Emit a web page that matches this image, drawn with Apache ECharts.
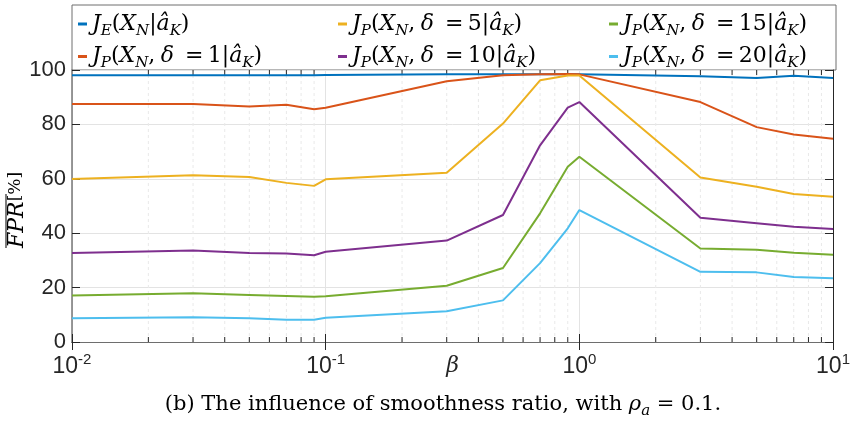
<!DOCTYPE html>
<html>
<head>
<meta charset="utf-8">
<script src="https://cdn.jsdelivr.net/npm/echarts@6/dist/echarts.min.js"></script>
<style>
  html, body { margin: 0; padding: 0; background: #fff; }
  #chart { width: 853px; height: 426px; }
</style>
</head>
<body>
<div id="chart"></div>
<script>
// smoothness ratio beta (x) and mean FPR in % for each detector
const betas = [0.01, 0.03, 0.05, 0.07, 0.09, 0.1, 0.3, 0.5, 0.7, 0.9, 1, 3, 5, 7, 10];
const fprE   = [98.1, 98.1, 98.1, 98.1, 98.1, 98.2, 98.4, 98.4, 98.4, 98.4, 98.4, 97.7, 97.1, 97.9, 97.1];
const fprP1  = [87.5, 87.5, 86.6, 87.2, 85.6, 86.1, 95.9, 98.1, 98.4, 98.5, 98.4, 88.2, 79.0, 76.3, 74.7];
const fprP5  = [59.9, 61.3, 60.7, 58.5, 57.4, 59.8, 62.2, 80.3, 96.2, 98.0, 98.0, 60.5, 57.1, 54.4, 53.4];
const fprP10 = [32.7, 33.6, 32.7, 32.5, 31.9, 33.2, 37.3, 46.7, 72.3, 86.2, 88.2, 45.7, 43.7, 42.4, 41.5];
const fprP15 = [17.1, 17.9, 17.3, 16.9, 16.6, 16.8, 20.7, 27.2, 47.3, 64.4, 68.1, 34.4, 33.9, 32.8, 32.1];
const fprP20 = [8.7, 9.1, 8.7, 8.2, 8.2, 8.9, 11.3, 15.3, 29.0, 41.8, 48.5, 25.8, 25.6, 23.9, 23.4];

const seriesNames = [
  'J_E(X_N|â_K)',
  'J_P(X_N,\u2005δ\u2002=\u20091|â_K)',
  'J_P(X_N,\u2005δ\u2002=\u20095|â_K)',
  'J_P(X_N,\u2005δ\u2002=\u200910|â_K)',
  'J_P(X_N,\u2005δ\u2002=\u200915|â_K)',
  'J_P(X_N,\u2005δ\u2002=\u200920|â_K)'
];
const seriesValues = [fprE, fprP1, fprP5, fprP10, fprP15, fprP20];
const colors = ['#0072BD', '#D95319', '#EDB120', '#7E2F8E', '#77AC30', '#4DBEEE'];

const xMin = 0.01, xMax = 10;
const yTicks = [0, 20, 40, 60, 80, 100];
const minorTicks = [0.02, 0.03, 0.04, 0.05, 0.06, 0.07, 0.08, 0.09,
  0.2, 0.3, 0.4, 0.5, 0.6, 0.7, 0.8, 0.9, 2, 3, 4, 5, 6, 7, 8, 9];

const serif = 'DejaVu Serif';
const sans = 'Liberation Sans';
const axisColor = '#262626';

// tiny TeX-ish to rich text: letters italic, "_c" subscript, rest upright
function texRich(s) {
  let out = '';
  for (let i = 0; i < s.length; i++) {
    const c = s[i];
    if (c === '_') out += '{s|' + s[++i] + '}';
    else if (/[A-Za-zâδρβ]/.test(c)) out += '{i|' + c + '}';
    else out += '{r|' + c + '}';
  }
  return out;
}

function mathRich(size) {
  return {
    i: { fontFamily: serif, fontStyle: 'italic', fontSize: size, lineHeight: size + 7, color: '#000' },
    r: { fontFamily: serif, fontSize: size, lineHeight: size + 7, color: '#000' },
    s: { fontFamily: serif, fontStyle: 'italic', fontSize: Math.round(size * 0.7), lineHeight: 12, verticalAlign: 'bottom', color: '#000' }
  };
}

const chart = echarts.init(document.getElementById('chart'), null, { renderer: 'canvas' });

const legendCols = [78, 338, 609];
const legends = legendCols.map((left, k) => ({
  data: [seriesNames[2 * k], seriesNames[2 * k + 1]],
  orient: 'vertical',
  left: left,
  top: 13,
  padding: 0,
  itemGap: 7,
  itemWidth: 9,
  itemHeight: 3,
  icon: 'rect',
  selectedMode: false,
  formatter: name => texRich(name),
  textStyle: { rich: mathRich(22) }
}));

const lineSeries = seriesNames.map((name, k) => ({
  name: name,
  type: 'line',
  data: betas.map((b, j) => [b, seriesValues[k][j]]),
  symbol: 'none',
  z: 3,
  color: colors[k],
  lineStyle: { color: colors[k], width: 2 }
}));

const minorSeries = {
  type: 'custom',
  silent: true,
  z: 1,
  data: minorTicks.map(v => [v, yTicks[0]]),
  encode: { x: 0, y: 1 },
  renderItem(params, api) {
    const b = api.coord([api.value(0), yTicks[0]]);
    const t = api.coord([api.value(0), yTicks[yTicks.length - 1]]);
    const tick = { stroke: axisColor, lineWidth: 1 };
    return {
      type: 'group',
      children: [
        { type: 'line', shape: { x1: b[0], y1: b[1], x2: t[0], y2: t[1] }, style: { stroke: '#e9e9e9', lineWidth: 1, lineDash: [3, 3] } },
        { type: 'line', shape: { x1: b[0], y1: b[1], x2: b[0], y2: b[1] - 5 }, style: tick },
        { type: 'line', shape: { x1: t[0], y1: t[1], x2: t[0], y2: t[1] + 5 }, style: tick }
      ]
    };
  }
};

const option = {
  backgroundColor: '#fff',
  animation: false,
  grid: { left: 72, right: 17, top: 70, bottom: 84 },
  legend: legends,
  xAxis: [
    {
      type: 'log',
      logBase: 10,
      min: xMin,
      max: xMax,
      name: 'β',
      nameLocation: 'middle',
      nameGap: 13,
      nameMoveOverlap: false,
      nameTextStyle: { fontFamily: serif, fontStyle: 'italic', fontSize: 22, color: axisColor, verticalAlign: 'top' },
      axisLine: { show: true, lineStyle: { color: axisColor, width: 1 } },
      axisTick: { show: true, inside: true, length: 8, lineStyle: { color: axisColor } },
      axisLabel: {
        margin: 10,
        formatter: v => '{b|10}{sup|' + Math.round(Math.log10(v)) + '}',
        rich: {
          b: { fontFamily: sans, fontSize: 23, lineHeight: 30, color: axisColor },
          sup: { fontFamily: sans, fontSize: 15, lineHeight: 14, verticalAlign: 'top', color: axisColor }
        }
      },
      splitLine: { show: true, lineStyle: { color: '#e3e3e3', width: 1 } }
    },
    {
      type: 'log',
      logBase: 10,
      min: xMin,
      max: xMax,
      position: 'top',
      axisLine: { show: true, lineStyle: { color: '#6e6e6e', width: 1 } },
      axisTick: { show: true, inside: true, length: 8, lineStyle: { color: axisColor } },
      axisLabel: { show: false },
      splitLine: { show: false }
    }
  ],
  yAxis: [
    {
      type: 'value',
      min: yTicks[0],
      max: yTicks[yTicks.length - 1],
      interval: 20,
      axisLine: { show: true, lineStyle: { color: '#777', width: 1.5 } },
      axisTick: { show: true, inside: true, length: 8, lineStyle: { color: axisColor } },
      axisLabel: { margin: 6, fontFamily: sans, fontSize: 22, color: axisColor },
      splitLine: { show: true, lineStyle: { color: '#e3e3e3', width: 1 } }
    },
    {
      type: 'value',
      min: yTicks[0],
      max: yTicks[yTicks.length - 1],
      interval: 20,
      position: 'right',
      axisLine: { show: true, lineStyle: { color: axisColor, width: 1 } },
      axisTick: { show: true, inside: true, length: 8, lineStyle: { color: axisColor } },
      axisLabel: { show: false },
      splitLine: { show: false }
    }
  ],
  graphic: [
    {
      type: 'rect',
      silent: true,
      shape: { x: 72, y: 5, width: 764, height: 65 },
      style: { fill: 'none', stroke: '#6e6e6e', lineWidth: 1 }
    },
    {
      type: 'group',
      x: 17,
      y: 204,
      rotation: Math.PI / 2,
      children: [
        {
          type: 'text',
          x: -44,
          style: {
            text: '{f|FPR}{p|[%]}',
            align: 'left',
            verticalAlign: 'middle',
            rich: {
              f: { fontFamily: serif, fontStyle: 'italic', fontSize: 22, color: axisColor },
              p: { fontFamily: serif, fontSize: 17, color: axisColor, padding: [0, 0, 2, 0] }
            }
          }
        },
        {
          type: 'line',
          shape: { x1: -44, y1: -11, x2: 10, y2: -11 },
          style: { stroke: axisColor, lineWidth: 1.2 }
        }
      ]
    },
    {
      type: 'text',
      x: 443,
      y: 405,
      style: {
        text: '{r|(b) The influence of smoothness ratio, with }' + texRich('ρ_a') + '{r| = 0.1.}',
        align: 'center',
        verticalAlign: 'middle',
        rich: mathRich(21)
      }
    }
  ],
  series: [minorSeries, ...lineSeries]
};

chart.setOption(option);
</script>
</body>
</html>
